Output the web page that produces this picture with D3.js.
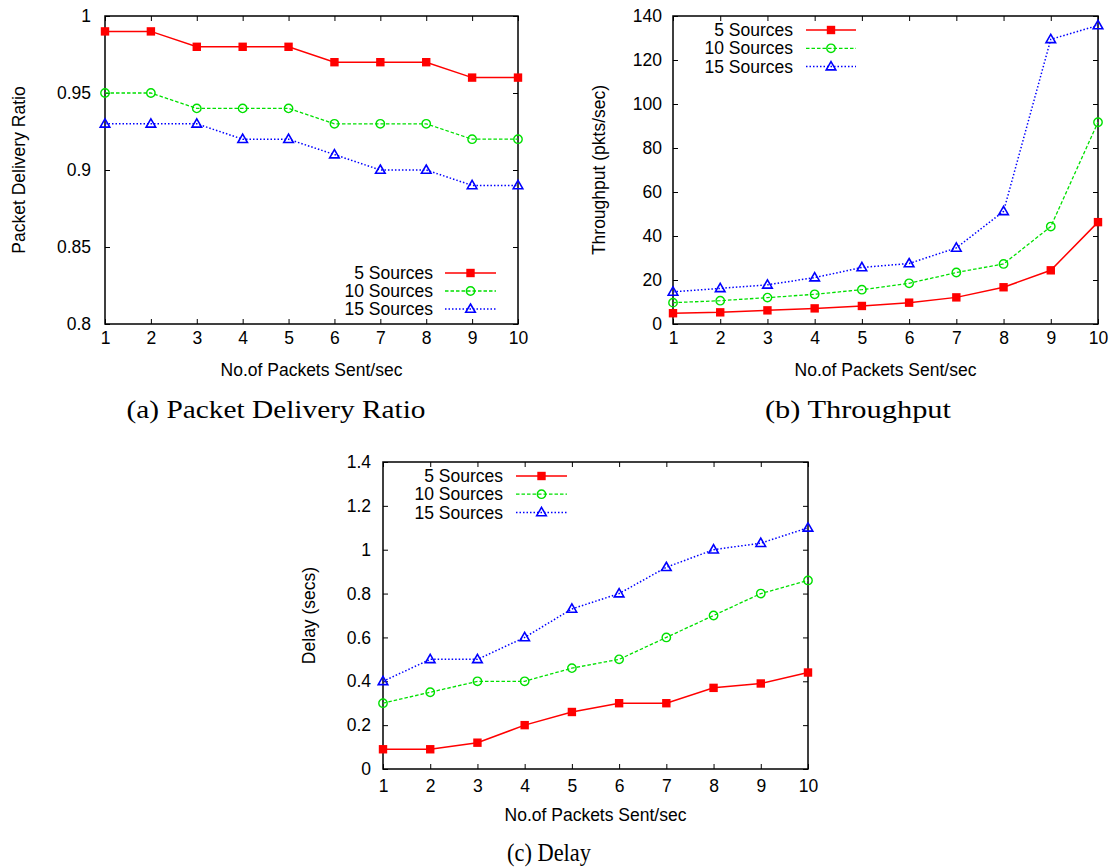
<!DOCTYPE html>
<html>
<head>
<meta charset="utf-8">
<script src="https://cdn.jsdelivr.net/npm/d3@7"></script>
<style>
  body { margin: 0; background: #fff; }
  svg { display: block; }
  text { font-family: "Liberation Sans", Arial, Helvetica, sans-serif; fill: #000; }
</style>
</head>
<body>
<div></div>
<script>
// ---- data ----
var packets = [1, 2, 3, 4, 5, 6, 7, 8, 9, 10];
var seriesNames = ["5 Sources", "10 Sources", "15 Sources"];

var pdr5  = [0.99, 0.99, 0.98, 0.98, 0.98, 0.97, 0.97, 0.97, 0.96, 0.96];
var pdr10 = [0.95, 0.95, 0.94, 0.94, 0.94, 0.93, 0.93, 0.93, 0.92, 0.92];
var pdr15 = [0.93, 0.93, 0.93, 0.92, 0.92, 0.91, 0.90, 0.90, 0.89, 0.89];

var thr5  = [4.9, 5.3, 6.2, 7.1, 8.2, 9.7, 12.1, 16.7, 24.4, 46.3];
var thr10 = [9.7, 10.6, 12.0, 13.5, 15.6, 18.5, 23.4, 27.3, 44.3, 91.7];
var thr15 = [14.6, 16.2, 17.8, 21.1, 25.7, 27.5, 34.6, 51.2, 129.4, 135.7];

var delay5  = [0.09, 0.09, 0.12, 0.20, 0.26, 0.30, 0.30, 0.37, 0.39, 0.44];
var delay10 = [0.30, 0.35, 0.40, 0.40, 0.46, 0.50, 0.60, 0.70, 0.80, 0.86];
var delay15 = [0.40, 0.50, 0.50, 0.60, 0.73, 0.80, 0.92, 1.00, 1.03, 1.10];

var pdrTicks   = [0.8, 0.85, 0.9, 0.95, 1];
var thrTicks   = [0, 20, 40, 60, 80, 100, 120, 140];
var delayTicks = [0, 0.2, 0.4, 0.6, 0.8, 1, 1.2, 1.4];

// ---- styles ----
var styles = [
  { color: "#ff0000", dash: null,     width: 1.5, marker: "square" },
  { color: "#00e000", dash: "3.5,2",  width: 1.3, marker: "circle" },
  { color: "#0000ff", dash: "1.5,2",  width: 1.5, marker: "triangle" }
];

var svg = d3.select("div").append("svg")
  .attr("width", 1116)
  .attr("height", 868);

var fontSize = 17.5;

var panels = [
  { left: 105, top: 16, right: 518, bottom: 324,
    domain: [0.8, 1], ticks: pdrTicks, series: [pdr5, pdr10, pdr15],
    yLabel: "Packet Delivery Ratio", yLabelX: 19, xLabelY: 370,
    xPad: 8, yPad: 14,
    legend: { textRight: 433, lineStart: 445, lineEnd: 496, y0: 273, step: 18 },
    caption: "(a) Packet Delivery Ratio", captionX: 276, captionY: 418, captionW: 299 },
  { left: 673, top: 16, right: 1098, bottom: 324,
    domain: [0, 140], ticks: thrTicks, series: [thr5, thr10, thr15],
    yLabel: "Throughput (pkts/sec)", yLabelX: 599, xLabelY: 370,
    xPad: 8, yPad: 11,
    legend: { textRight: 793, lineStart: 806, lineEnd: 856, y0: 30, step: 18.3 },
    caption: "(b) Throughput", captionX: 858, captionY: 418, captionW: 186 },
  { left: 383, top: 462, right: 808, bottom: 769,
    domain: [0, 1.4], ticks: delayTicks, series: [delay5, delay10, delay15],
    yLabel: "Delay (secs)", yLabelX: 309, xLabelY: 815,
    xPad: 11, yPad: 12,
    legend: { textRight: 503, lineStart: 516, lineEnd: 567, y0: 476, step: 18.2 },
    caption: "(c) Delay", captionX: 549, captionY: 861, captionW: 84 }
];

function drawMarker(g, type, color) {
  if (type === "square") {
    g.append("rect").attr("x", -4.2).attr("y", -4.2)
      .attr("width", 8.4).attr("height", 8.4).attr("fill", color);
  } else if (type === "circle") {
    g.append("circle").attr("r", 4.2)
      .attr("fill", "none").attr("stroke", color).attr("stroke-width", 1.4);
  } else {
    g.append("path").attr("d", "M0,-5L4.8,3.3L-4.8,3.3Z")
      .attr("fill", "none").attr("stroke", color).attr("stroke-width", 1.6);
  }
}

panels.forEach(function (p) {
  var w = p.right - p.left, h = p.bottom - p.top;
  var g = svg.append("g").attr("transform", "translate(" + p.left + "," + p.top + ")");

  var x = d3.scaleLinear().domain([1, 10]).range([0, w]);
  var y = d3.scaleLinear().domain(p.domain).range([h, 0]);

  // axes with inward ticks, mirrored on top/right
  g.append("g").attr("transform", "translate(0," + h + ")")
    .call(d3.axisBottom(x).tickValues(packets).tickFormat(d3.format("d")).tickSize(-5).tickPadding(p.xPad));
  g.append("g")
    .call(d3.axisLeft(y).tickValues(p.ticks).tickFormat(function (d) { return String(+d.toFixed(2)); })
      .tickSize(-5).tickPadding(p.yPad));
  g.append("g").call(d3.axisTop(x).tickValues(packets).tickFormat("").tickSize(-5));
  g.append("g").attr("transform", "translate(" + w + ",0)")
    .call(d3.axisRight(y).tickValues(p.ticks).tickFormat("").tickSize(-5));

  g.selectAll(".domain").remove();
  g.selectAll(".tick line").attr("stroke", "#000").attr("stroke-width", 1);
  g.selectAll(".tick text").attr("font-size", fontSize).attr("font-family", null).attr("fill", "#000");

  g.append("rect").attr("width", w).attr("height", h)
    .attr("fill", "none").attr("stroke", "#000").attr("stroke-width", 1.5);

  // series
  var line = d3.line()
    .x(function (d, i) { return x(packets[i]); })
    .y(function (d) { return y(d); });

  p.series.forEach(function (vals, s) {
    var st = styles[s];
    g.append("path").datum(vals)
      .attr("d", line)
      .attr("fill", "none")
      .attr("stroke", st.color)
      .attr("stroke-width", st.width)
      .attr("stroke-dasharray", st.dash);
    vals.forEach(function (v, i) {
      var m = g.append("g").attr("transform", "translate(" + x(packets[i]) + "," + y(v) + ")");
      drawMarker(m, st.marker, st.color);
    });
  });

  // legend
  seriesNames.forEach(function (name, s) {
    var st = styles[s];
    var ly = p.legend.y0 + s * p.legend.step;
    svg.append("text")
      .attr("x", p.legend.textRight).attr("y", ly).attr("dy", "0.35em")
      .attr("text-anchor", "end").attr("font-size", fontSize)
      .text(name);
    svg.append("line")
      .attr("x1", p.legend.lineStart).attr("x2", p.legend.lineEnd)
      .attr("y1", ly).attr("y2", ly)
      .attr("stroke", st.color).attr("stroke-width", st.width)
      .attr("stroke-dasharray", st.dash);
    var m = svg.append("g").attr("transform",
      "translate(" + (p.legend.lineStart + p.legend.lineEnd) / 2 + "," + ly + ")");
    drawMarker(m, st.marker, st.color);
  });

  // axis titles
  svg.append("text")
    .attr("x", p.left + w / 2).attr("y", p.xLabelY).attr("dy", "0.35em")
    .attr("text-anchor", "middle").attr("font-size", fontSize)
    .text("No.of Packets Sent/sec");
  svg.append("text")
    .attr("transform", "translate(" + p.yLabelX + "," + (p.top + h / 2) + ") rotate(-90)")
    .attr("dy", "0.35em")
    .attr("text-anchor", "middle").attr("font-size", fontSize)
    .text(p.yLabel);

  // caption (LaTeX-style serif, stretched to the reference width)
  svg.append("text")
    .attr("x", p.captionX).attr("y", p.captionY)
    .attr("text-anchor", "middle")
    .attr("font-size", 25)
    .attr("textLength", p.captionW)
    .attr("lengthAdjust", "spacingAndGlyphs")
    .style("font-family", "'Liberation Serif', 'DejaVu Serif', serif")
    .text(p.caption);
});
</script>
</body>
</html>
